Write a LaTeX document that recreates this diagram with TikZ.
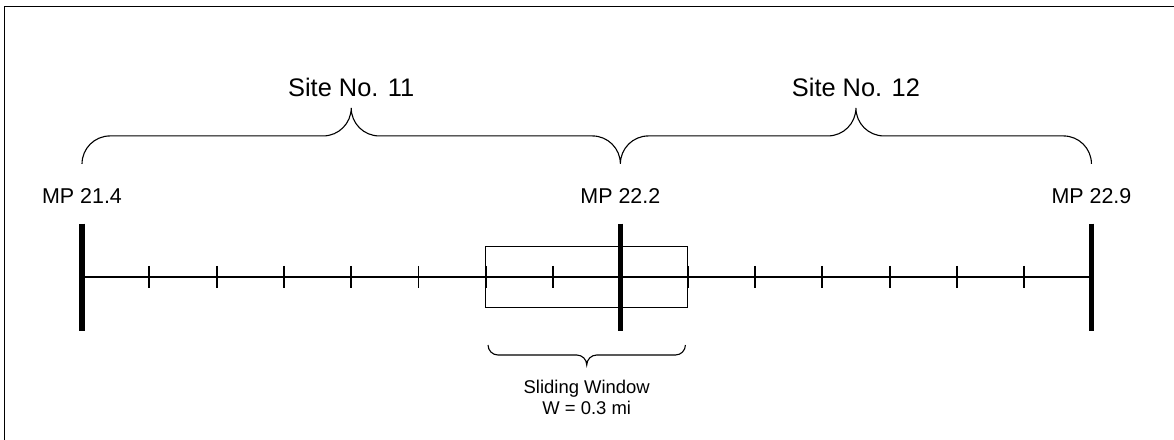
\documentclass[tikz,border=0pt]{standalone}
\usepackage{fontspec}
\setmainfont{Liberation Sans}
\usetikzlibrary{calc}
\tikzset{brace up/.style = {to path={
  arc[start angle=180,end angle=90,radius=#1]
  -- ($(\tikztostart)!.5!(\tikztotarget)+(-#1,#1)$)
  arc[start angle=-90,end angle=0,radius=#1]
  arc[start angle=180,end angle=270,radius=#1]
  -- ($(\tikztotarget)+(-#1,#1)$)
  arc[start angle=90,end angle=0,radius=#1]
  }},
  brace down/.style = {to path={
  arc[start angle=180,end angle=270,radius=#1]
  -- ($(\tikztostart)!.5!(\tikztotarget)+(-#1,-#1)$)
  arc[start angle=90,end angle=0,radius=#1]
  arc[start angle=180,end angle=90,radius=#1]
  -- ($(\tikztotarget)+(-#1,-#1)$)
  arc[start angle=270,end angle=360,radius=#1]
  }},
  milepost/.style = {line width=3.2pt},
  tick/.style = {line width=1.2pt},
  site/.style = {font=\fontsize{16.1}{19}\selectfont, anchor=base},
  mp/.style = {font=\fontsize{13.6}{16}\selectfont, anchor=base}
}

\begin{document}
\begin{tikzpicture}
        \useasboundingbox (-1.828,-3.633) rectangle (24.34,6.174);
        % frame, open on the right and at the bottom
        \draw[line width=0.7pt] (-1.73,-4) -- (-1.73,6.03) -- (25,6.03);
        \path (0,0) coordinate (mp0)
        (12,0) coordinate (mp8)
        (22.5,0) coordinate (mp15)
        (0,2.52) coordinate (s0)
        (12,2.52) coordinate (s8)
        (22.5,2.52) coordinate (s15)
        (9.05,-1.516) coordinate (w0)
        (13.45,-1.516) coordinate (w1);
        \path (0,1.649) node[mp] (lab214) {MP 21.4}
        (12,1.649) node[mp] (lab222) {MP 22.2}
        (22.5,1.649) node[mp] (lab229) {MP 22.9}
        (6,4.012) node[site] (site11) {Site No. 11}
        (17.25,4.012) node[site] (site12) {Site No. 12}
        (11.25,-3.076) node[anchor=base, align=center,
          font=\fontsize{11.7}{13.9}\selectfont] (window) {Sliding Window\\W = 0.3 mi};
        % sliding window
        \draw[line width=0.7pt] (9,0.68) rectangle (13.5,-0.68);
        % axis
        \draw[line width=1.3pt] (mp0) -- (mp15);
        \foreach \i in {1,...,7,9,10,...,14}
            \draw[tick] (\i*1.5,0.245) -- (\i*1.5,-0.245);
        \foreach \m in {mp0,mp8,mp15}
            \draw[milepost] ($(\m)+(0,1.19)$) -- ($(\m)+(0,-1.2)$);
        % braces
        \draw[line width=0.7pt] (s0) to[brace up=0.624] (s8)
            (s8) to[brace up=0.624] (s15);
        \draw[line width=0.7pt] (w0) to[brace down=0.223] (w1);
\end{tikzpicture}
\end{document}
